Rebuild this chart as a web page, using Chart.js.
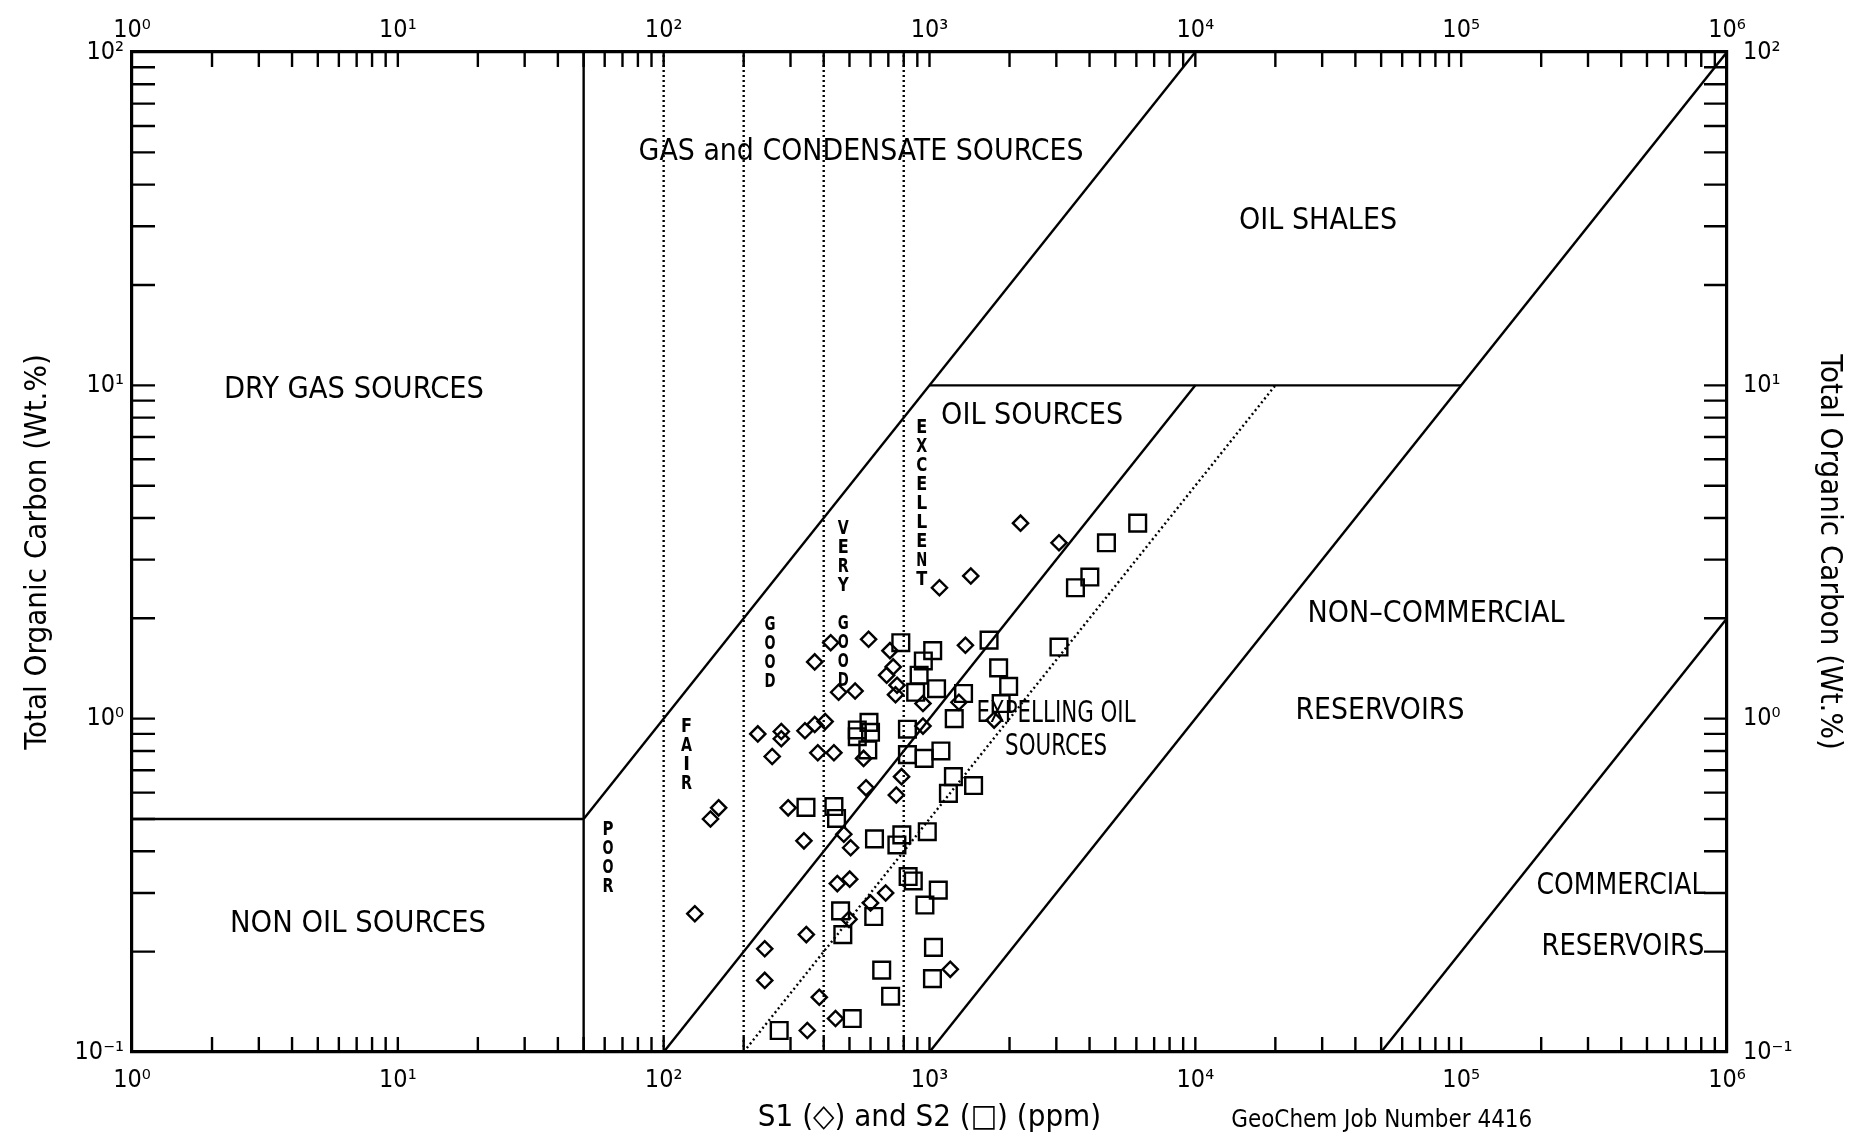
<!DOCTYPE html>
<html><head><meta charset="utf-8">
<script src="https://cdn.jsdelivr.net/npm/chart.js@4.4.1/dist/chart.umd.min.js"></script>
<style>html,body{margin:0;padding:0;background:#fff;}canvas{display:block;}</style>
</head><body>
<canvas id="c" width="1865" height="1142"></canvas>
<script>
const FONT = "'Liberation Sans Narrow','DejaVu Sans Condensed','Arial Narrow','Liberation Sans',sans-serif";

// ---- tick labels (decades) ----
const xDecades = [1, 10, 100, 1000, 10000, 100000, 1000000];
const yDecades = [0.1, 1, 10, 100];

// ---- S1 (diamonds): [ppm, TOC wt.%] ----
const s1Points = [
  [1090,2.47],[1430,2.68],[2200,3.86],[3070,3.37],
  [425,1.69],[590,1.73],[370,1.48],[710,1.60],[730,1.43],[690,1.35],[755,1.26],[745,1.18],
  [455,1.20],[525,1.21],[1365,1.66],[945,1.11],[1290,1.12],[1750,0.99],
  [226,0.90],[277,0.915],[277,0.87],[340,0.92],[370,0.96],[405,0.98],[256,0.77],[380,0.79],
  [437,0.79],[565,0.76],[945,0.95],[577,0.62],[785,0.67],[750,0.59],
  [161,0.54],[150,0.50],[131,0.26],[294,0.54],[337,0.43],[476,0.45],[505,0.41],[450,0.32],
  [501,0.33],[684,0.30],[600,0.28],[498,0.25],[344,0.225],[240,0.204],[240,0.164],[385,0.146],
  [443,0.126],[347,0.116],[1197,0.177]
];

// ---- S2 (squares): [ppm, TOC wt.%] ----
const s2Points = [
  [6070,3.86],[4630,3.37],[4010,2.66],[3540,2.47],[3070,1.64],[1675,1.72],[1820,1.42],[1985,1.25],[1860,1.11],
  [780,1.69],[1028,1.60],[948,1.49],[914,1.35],[1063,1.23],[887,1.20],[1343,1.19],[1239,1.00],
  [592,0.975],[535,0.925],[535,0.883],[600,0.91],[586,0.806],[826,0.93],[826,0.78],[955,0.76],
  [1104,0.80],[1230,0.67],[1465,0.63],[1178,0.597],
  [343,0.542],[437,0.545],[447,0.502],[621,0.436],[754,0.418],[787,0.448],[981,0.458],[831,0.336],
  [869,0.326],[1079,0.306],[961,0.276],[463,0.265],[617,0.255],[472,0.225],[1035,0.206],[1026,0.166],
  [661,0.176],[714,0.147],[512,0.126],[272,0.116]
];

// ---- field boundaries (end points in ppm / TOC) ----
const solidBoundaries = [
  [[50,0.1],[50,100]],
  [[1,0.5],[50,0.5]],
  [[50,0.5],[10000,100]],
  [[100,0.1],[10000,10]],
  [[1000,10],[100000,10]],
  [[1000,0.1],[1000000,100]],
  [[50000,0.1],[1000000,2]]
];
const dottedBoundaries = [
  [[200,0.1],[20000,10]],
  [[100,0.1],[100,100]],
  [[200,0.1],[200,100]],
  [[400,0.1],[400,100]],
  [[800,0.1],[800,100]]
];

// ---- field names ----
const regionLabels = [
  {text:'GAS and CONDENSATE SOURCES', x:553, y:50.1, w:445},
  {text:'OIL SHALES', x:28960, y:31.1, w:158},
  {text:'DRY GAS SOURCES', x:6.84, y:9.68, w:260},
  {text:'OIL SOURCES', x:2432, y:8.09, w:182},
  {text:'NON–COMMERCIAL', x:80400, y:2.06, w:257},
  {text:'RESERVOIRS', x:49500, y:1.05, w:169},
  {text:'EXPELLING OIL', x:2993, y:1.03, w:159},
  {text:'SOURCES', x:2993, y:0.822, w:102},
  {text:'NON OIL SOURCES', x:7.08, y:0.242, w:256},
  {text:'COMMERCIAL', x:399000, y:0.315, w:169},
  {text:'RESERVOIRS', x:406000, y:0.2065, w:163}
];
const verticalLabels = [
  {text:'POOR', x:61.8, y:0.464},
  {text:'FAIR', x:122, y:0.946},
  {text:'GOOD', x:251, y:1.91},
  {text:'VERY GOOD', x:474, y:3.72},
  {text:'EXCELLENT', x:935, y:7.48}
];

const SUP = {'0':'⁰','1':'¹','2':'²','3':'³','4':'⁴','5':'⁵','6':'⁶','-':'⁻'};
function pow10Label(v){
  const e = String(Math.round(Math.log10(v)));
  return '10' + e.split('').map(c => SUP[c]).join('');
}

const datasets = [];
solidBoundaries.forEach(seg => datasets.push({
  type:'line', data: seg.map(([x,y]) => ({x,y})), borderColor:'#000', borderWidth:2.4,
  pointRadius:0, fill:false, tension:0, xAxisID:'x', yAxisID:'y'
}));
dottedBoundaries.forEach(seg => datasets.push({
  type:'line', data: seg.map(([x,y]) => ({x,y})), borderColor:'#000', borderWidth:2.4,
  borderDash:[2,3], pointRadius:0, fill:false, tension:0, xAxisID:'x', yAxisID:'y'
}));
datasets.push({
  type:'scatter', label:'S1', data: s1Points.map(([x,y]) => ({x,y})), pointStyle:'rectRot',
  pointRadius:7.6, pointBorderWidth:2.4, borderColor:'#000', backgroundColor:'rgba(0,0,0,0)',
  xAxisID:'x', yAxisID:'y'
});
datasets.push({
  type:'scatter', label:'S2', data: s2Points.map(([x,y]) => ({x,y})), pointStyle:'rect',
  pointRadius:11.8, pointBorderWidth:2.4, borderColor:'#000', backgroundColor:'rgba(0,0,0,0)',
  xAxisID:'x', yAxisID:'y'
});

function logAxis(position, min, max, decades, size, pad, extra){
  const horiz = position === 'top' || position === 'bottom';
  return Object.assign({
    type:'logarithmic', position, min, max,
    afterBuildTicks: s => { s.ticks = decades.map(v => ({value:v, major:true})); },
    afterFit: s => { if (horiz) s.height = size; else s.width = size; },
    ticks:{ callback: v => pow10Label(v), font:{family:FONT, size:25}, color:'#000',
            autoSkip:false, maxRotation:0, padding:pad },
    grid:{ display:false, drawTicks:false },
    border:{ display:true, color:'#000', width:3.2 }
  }, extra || {});
}

const inwardTicks = {
  id:'inwardTicks',
  afterDatasetsDraw(chart){
    const {ctx, chartArea:a, scales} = chart;
    const vals = (min,max) => {
      const out = [];
      for (let e = Math.floor(Math.log10(min)); e <= Math.ceil(Math.log10(max)); e++)
        for (let m = 1; m <= 9; m++) { const v = m*Math.pow(10,e); if (v > min*1.001 && v < max*0.999) out.push(v); }
      return out;
    };
    ctx.save(); ctx.strokeStyle = '#000'; ctx.lineWidth = 2.4; ctx.beginPath();
    for (const v of vals(scales.x.min, scales.x.max)) {
      const p = scales.x.getPixelForValue(v); ctx.moveTo(p, a.bottom); ctx.lineTo(p, a.bottom - 15);
      const q = scales.x2.getPixelForValue(v); ctx.moveTo(q, a.top); ctx.lineTo(q, a.top + 15);
    }
    for (const v of vals(scales.y.min, scales.y.max)) {
      const p = scales.y.getPixelForValue(v); ctx.moveTo(a.left, p); ctx.lineTo(a.left + 23, p);
      const q = scales.y2.getPixelForValue(v); ctx.moveTo(a.right, q); ctx.lineTo(a.right - 23, q);
    }
    ctx.stroke(); ctx.restore();
  }
};

function fitText(ctx, text, x, y, size, width, weight){
  ctx.font = (weight || 'normal') + ' ' + size + 'px ' + FONT;
  const w = ctx.measureText(text).width;
  ctx.save(); ctx.translate(x, y); if (width) ctx.scale(width / w, 1);
  ctx.fillText(text, 0, 0); ctx.restore();
}

const fieldText = {
  id:'fieldText',
  afterDatasetsDraw(chart){
    const {ctx, scales, chartArea:a} = chart;
    ctx.save(); ctx.fillStyle = '#000'; ctx.textAlign = 'center'; ctx.textBaseline = 'middle';
    regionLabels.forEach(l => fitText(ctx, l.text, scales.x.getPixelForValue(l.x), scales.y.getPixelForValue(l.y), 30, l.w));
    verticalLabels.forEach(l => {
      const px = scales.x.getPixelForValue(l.x), py = scales.y.getPixelForValue(l.y);
      l.text.split('').forEach((ch, i) => { if (ch !== ' ') fitText(ctx, ch, px, py + i*19, 20, ch === 'I' ? 0 : 11, 'bold'); });
    });
    ctx.textAlign = 'left';
    fitText(ctx, 'GeoChem Job Number 4416', scales.x.getPixelForValue(13650), a.bottom + 68, 25, 301);
    ctx.restore();
  }
};

const whiteBg = { id:'whiteBg', beforeDraw(c){ const x=c.ctx; x.save(); x.fillStyle='#fff'; x.fillRect(0,0,c.width,c.height); x.restore(); } };

new Chart(document.getElementById('c'), {
  type:'scatter',
  data:{ datasets },
  options:{
    responsive:false, devicePixelRatio:1, animation:false,
    layout:{ padding:0 },
    plugins:{ legend:{display:false}, tooltip:{enabled:false} },
    scales:{
      x: logAxis('bottom', 1, 1e6, xDecades, 90, 13, { title:{ display:true, text:'S1 (◇) and S2 (□) (ppm)', color:'#000',
            font:{family:FONT, size:31}, padding:{top:0, bottom:5} } }),
      x2: logAxis('top', 1, 1e6, xDecades, 52, 7),
      y: logAxis('left', 0.1, 100, yDecades, 132, 8, { title:{ display:true, text:'Total Organic Carbon (Wt.%)', color:'#000',
            font:{family:FONT, size:31}, padding:{top:19, bottom:0} } }),
      y2: logAxis('right', 0.1, 100, yDecades, 138, 16, { title:{ display:true, text:'Total Organic Carbon (Wt.%)', color:'#000',
            font:{family:FONT, size:31}, padding:{top:17, bottom:0} } })
    }
  },
  plugins:[whiteBg, inwardTicks, fieldText]
});
</script>
</body></html>
